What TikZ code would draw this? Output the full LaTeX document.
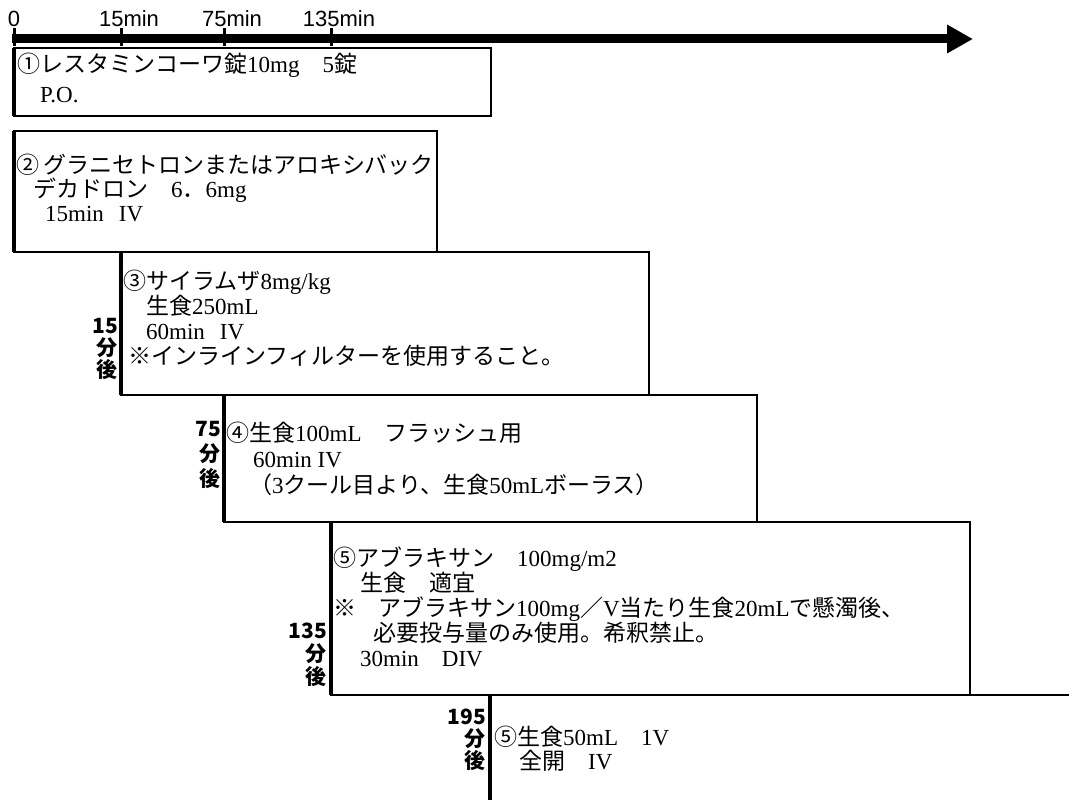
\documentclass[tikz,border=0pt]{standalone}
\usepackage{fontspec}
\setmainfont{Liberation Serif}
\setsansfont{Liberation Sans}
\newfontfamily\jpf{Noto Sans CJK JP}
\usepackage{tikz}
\usetikzlibrary{arrows.meta,positioning}
\newcommand{\en}[1]{{\rmfamily #1}}

\begin{document}
\begin{tikzpicture}[x=1pt, y=-1pt,
  medbox/.style={draw, line width=1.3pt, anchor=north west, inner sep=0pt, outer sep=0pt},
  thickside/.style={line width=3.5pt},
  txt/.style={anchor=north west, align=left, inner sep=0pt, font=\jpf\fontsize{23}{#1}\selectfont},
  txt/.default=25,
  lab/.style={anchor=north east, align=right, inner sep=0pt, font=\jpf\bfseries\fontsize{21}{#1}\selectfont},
  lab/.default=22,
  tk/.style={line width=3pt},
  tklab/.style={anchor=base, inner sep=0pt, font=\sffamily\fontsize{22}{24}\selectfont},
  timeaxis/.style={line width=9pt, -{Triangle[length=26pt, width=27pt]}}]
\useasboundingbox (0,0) rectangle (1069,800);

% time axis
\coordinate (t0) at (12,39);
\coordinate (tend) at (973,39);
\draw[timeaxis] (t0) -- (tend);
\foreach \n/\x in {0/14,15/121,75/224,135/331}{
  \coordinate (k\n) at (\x,37);
  \draw[tk] ([yshift=9pt]k\n) -- ([yshift=-9pt]k\n);}
\node[tklab] (tl0) at (14,27) {0};
\foreach \n/\x in {15/121,75/224,135/331}{
  \node[tklab] (tl\n) at (\x+8,27) {\n min};}

% boxes
\node[medbox, minimum width=477pt, minimum height=68pt] (b1) at (14,48) {};
\node[medbox, minimum width=423pt, minimum height=121pt] (b2) at (14,131) {};
\node[medbox, minimum width=528pt, minimum height=143pt] (b3) at (121,252) {};
\node[medbox, minimum width=533pt, minimum height=127pt] (b4) at (224,395) {};
\node[medbox, minimum width=639pt, minimum height=173pt] (b5) at (331,522) {};
\node[anchor=north west, inner sep=0pt, outer sep=0pt, minimum width=579pt, minimum height=105pt] (b6) at (490,695) {};
\draw[line width=1.3pt] (b6.north west) -- (b6.north east);
\foreach \b in {b1,b2,b3,b4,b5,b6}{\draw[thickside] (\b.north west) -- (\b.south west);}

% contents
\node[txt=30] (t1) at (17,53) {①レスタミンコーワ錠\en{10mg}　\en{5}錠\\　\en{P.O.}};
\node[txt=24] (t2) at (16,154) {②\hspace*{4pt}グラニセトロンまたはアロキシバック\\\hspace*{17pt}デカドロン　\en{6}．\en{6mg}\\\hspace*{29pt}\en{15min}\hspace*{15pt}\en{IV}};
\node[txt] (t3) at (123,270) {③サイラムザ\en{8mg/kg}\\　生食\en{250mL}\\　\en{60min}\hspace*{15pt}\en{IV}\\\hspace*{5pt}※インラインフィルターを使用すること。};
\node[txt=26] (t4) at (226,422) {④生食\en{100mL}　フラッシュ用\\\hspace*{27pt}\en{60min IV}\\　（\en{3}クール目より、生食\en{50mL}ボーラス）};
\node[txt=25] (t5) at (333,547) {⑤アブラキサン　\en{100mg/m2}\\\hspace*{27pt}生食　適宜\\※\hspace*{22pt}アブラキサン\en{100mg}／\en{V}当たり生食\en{20mL}で懸濁後、\\\hspace*{40pt}必要投与量のみ使用。希釈禁止。\\\hspace*{27pt}\en{30min}　\en{DIV}};
\node[txt=24] (t6) at (494,726) {⑤生食\en{50mL}　\en{1V}\\\hspace*{25pt}全開　\en{IV}};

% start times
\node[lab] (l3) at (118,318) {15\\分\\後};
\node[lab=25] (l4) at (221,421) {75\\分\\後};
\node[lab=23] (l5) at (327,623) {135\\分\\後};
\node[lab] (l6) at (486,709) {195\\分\\後};
\end{tikzpicture}
\end{document}
